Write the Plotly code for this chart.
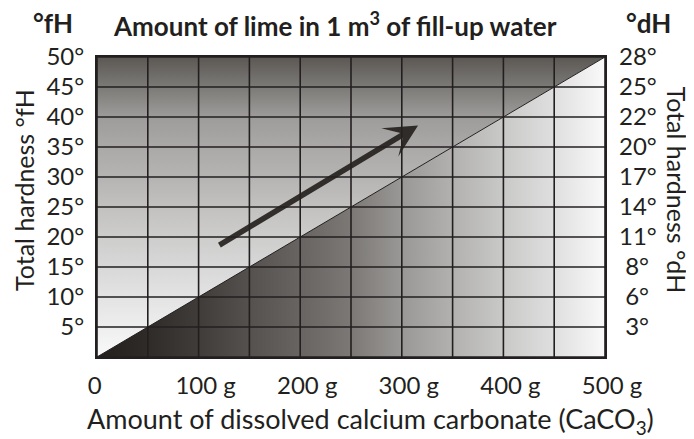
import plotly.graph_objects as go

# ---------------- data ----------------
lime_g = [0, 500]            # amount of dissolved CaCO3 (g per m3) along diagonal
hardness_fh = [0, 50]        # total hardness (°fH) along diagonal

x_ticks = [0, 100, 200, 300, 400, 500]
x_ticktext = ["0\u00a0\u00a0\u00a0", "100 g", "200 g", "300 g", "400 g", "500 g"]
x_grid = [0, 50, 100, 150, 200, 250, 300, 350, 400, 450, 500]

fh_grid = [0, 5, 10, 15, 20, 25, 30, 35, 40, 45, 50]
fh_ticks = [5, 10, 15, 20, 25, 30, 35, 40, 45, 50]
fh_labels = ["5°", "10°", "15°", "20°", "25°", "30°", "35°", "40°", "45°", "50°"]
dh_labels = ["\u00a03°", "\u00a06°", "\u00a08°", "11°", "14°", "17°", "20°", "22°", "25°", "28°"]

arrow_tail = [119, 18.5]
arrow_head = [316, 38.6]

# ---------------- styles ----------------
INK = "#231f20"
FONT = "Lato"

upper_scale = [
    [0.0, "#f9f9f9"], [0.1, "#eeeeee"], [0.2, "#e3e3e3"], [0.3, "#d8d8d8"],
    [0.4, "#cdcdcc"], [0.5, "#c2c1c0"], [0.6, "#b5b4b2"], [0.7, "#aaa9a7"],
    [0.8, "#9e9c9a"], [0.9, "#7c7a77"], [1.0, "#5b5854"],
]
lower_scale = [
    [0.0, "#221e1b"], [0.1, "#2f2b28"], [0.2, "#403c39"], [0.3, "#55514e"],
    [0.4, "#676461"], [0.5, "#7b7875"], [0.6, "#9a9896"], [0.7, "#b2b1b0"],
    [0.8, "#c9c9c8"], [0.9, "#dfdfdf"], [1.0, "#f9f9f9"],
]

fig = go.Figure()

# upper-left triangle (vertical gradient)
fig.add_trace(go.Scatter(
    x=[lime_g[0], lime_g[0], lime_g[1], lime_g[0]],
    y=[hardness_fh[0], hardness_fh[1], hardness_fh[1], hardness_fh[0]],
    mode="lines", line=dict(width=0), fill="toself",
    fillgradient=dict(type="vertical", colorscale=upper_scale),
    hoverinfo="skip", showlegend=False,
))
# lower-right triangle (horizontal gradient)
fig.add_trace(go.Scatter(
    x=[lime_g[0], lime_g[1], lime_g[1], lime_g[0]],
    y=[hardness_fh[0], hardness_fh[0], hardness_fh[1], hardness_fh[0]],
    mode="lines", line=dict(width=0), fill="toself",
    fillgradient=dict(type="horizontal", colorscale=lower_scale),
    hoverinfo="skip", showlegend=False,
))

# grid lines drawn above the gradients
gx, gy = [], []
for xv in x_grid:
    gx += [xv, xv, None]
    gy += [fh_grid[0], fh_grid[-1], None]
for yv in fh_grid:
    gx += [x_grid[0], x_grid[-1], None]
    gy += [yv, yv, None]
fig.add_trace(go.Scatter(x=gx, y=gy, mode="lines",
                         line=dict(color=INK, width=1.6),
                         hoverinfo="skip", showlegend=False))

# diagonal
fig.add_trace(go.Scatter(x=lime_g, y=hardness_fh, mode="lines",
                         line=dict(color=INK, width=1),
                         hoverinfo="skip", showlegend=False))

# invisible trace to activate right axis
fig.add_trace(go.Scatter(x=[lime_g[0]], y=[hardness_fh[0]], yaxis="y2",
                         mode="markers", marker=dict(opacity=0),
                         hoverinfo="skip", showlegend=False))

# arrow
fig.add_annotation(x=arrow_head[0], y=arrow_head[1], ax=arrow_tail[0], ay=arrow_tail[1],
                   xref="x", yref="y", axref="x", ayref="y", text="",
                   showarrow=True, arrowhead=3, arrowsize=1.0, arrowwidth=5.5,
                   arrowcolor="rgba(38,34,31,0.92)", standoff=0)

# titles
fig.add_annotation(text="Amount of lime in 1 m<sup>3</sup> of fill-up water",
                   xref="paper", yref="paper", x=0.468, y=1.108,
                   xanchor="center", yanchor="middle", showarrow=False,
                   font=dict(family=FONT, size=26, color=INK, weight="bold"))
fig.add_annotation(text="°fH", xref="paper", yref="paper", x=-0.087, y=1.112,
                   xanchor="center", yanchor="middle", showarrow=False,
                   font=dict(family=FONT, size=26, color=INK, weight="bold"))
fig.add_annotation(text="°dH", xref="paper", yref="paper", x=1.085, y=1.112,
                   xanchor="center", yanchor="middle", showarrow=False,
                   font=dict(family=FONT, size=26, color=INK, weight="bold"))

fig.add_annotation(text="Amount of dissolved calcium carbonate (CaCO<sub>3</sub>)",
                   xref="paper", yref="paper", x=0.539, y=-0.212,
                   xanchor="center", yanchor="middle", showarrow=False,
                   font=dict(family=FONT, size=27, color=INK))
fig.add_annotation(text="Total hardness °fH", xref="paper", yref="paper",
                   x=-0.145, y=0.558, textangle=-90,
                   xanchor="center", yanchor="middle", showarrow=False,
                   font=dict(family=FONT, size=25, color=INK))
fig.add_annotation(text="Total hardness °dH", xref="paper", yref="paper",
                   x=1.142, y=0.558, textangle=90,
                   xanchor="center", yanchor="middle", showarrow=False,
                   font=dict(family=FONT, size=25, color=INK))

tickfont = dict(family=FONT, size=24, color=INK)
fig.update_layout(
    width=694, height=439,
    margin=dict(l=89, r=97, t=49, b=90),
    paper_bgcolor="white", plot_bgcolor="white",
    font=dict(family=FONT, color=INK),
    xaxis=dict(range=[lime_g[0], lime_g[1]], tickvals=x_ticks, ticktext=x_ticktext,
               showgrid=False, zeroline=False, ticks="", tickfont=tickfont,
               showline=True, mirror=True, linewidth=2, linecolor=INK,
               layer="above traces", ticklabelshift=7, ticklabelstandoff=6),
    yaxis=dict(range=[hardness_fh[0], hardness_fh[1]], tickvals=fh_ticks, ticktext=fh_labels,
               showgrid=False, zeroline=False, ticks="", tickfont=tickfont,
               showline=True, mirror=True, linewidth=2, linecolor=INK,
               layer="above traces", ticklabelstandoff=6),
    yaxis2=dict(range=[hardness_fh[0], hardness_fh[1]], tickvals=fh_ticks, ticktext=dh_labels,
                overlaying="y", side="right", showgrid=False, zeroline=False,
                ticks="", tickfont=tickfont, showline=False, ticklabelstandoff=13),
)

fig.write_html("out.html")
